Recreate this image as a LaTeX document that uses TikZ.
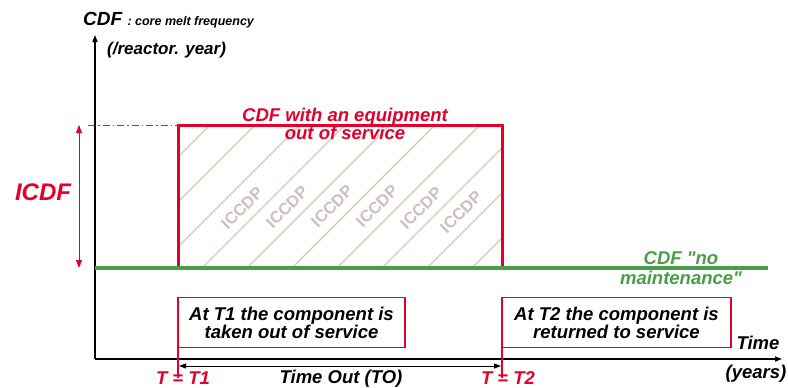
\documentclass[tikz,border=0pt]{standalone}
\usepackage{fontspec}
\setmainfont{Liberation Sans}[Ligatures=TeXOff]
\usetikzlibrary{arrows.meta}
\definecolor{cdfred}{RGB}{228,0,43}
\definecolor{cdfgreen}{RGB}{72,158,72}
\definecolor{hatchtan}{RGB}{210,200,180}
\definecolor{iccdpgrey}{RGB}{208,190,190}
\begin{document}
\begin{tikzpicture}[x=1pt,y=-1pt,
  every node/.style={font=\fontsize{18.5}{18}\selectfont\bfseries\itshape,inner sep=0pt},
  redbox/.style={draw=cdfred,line width=1.4pt,minimum width=#1,minimum height=50pt,align=center},
  tip/.style={-{Triangle[length=7pt,width=5pt]}}]
\useasboundingbox (0,0) rectangle (788,388);
% Axes
\coordinate (orig) at (95,359);
\coordinate (ytip) at (95,35);
\coordinate (xtip) at (782,359);
\draw[tip,line width=1.3pt] (orig) -- (ytip);
\draw[tip,line width=1.3pt] (orig) -- (xtip);
\node[anchor=base west,font=\fontsize{19}{20}\selectfont\bfseries\itshape] (cdf) at (83,25) {CDF {\fontsize{12.5}{13}\selectfont : core melt frequency}};
\node[anchor=base west,font=\fontsize{17}{18}\selectfont\bfseries\itshape] (unit) at (107,54) {(/reactor. year)};
\node (time) at (758,343) {Time};
\node (years) at (756,374) {(years)};
% Hatched area (ICCDP)
\begin{scope}
\clip (178,125) rectangle (502,268);
\foreach \x in {22,67,...,517} \draw[hatchtan,line width=1.4pt] (\x,268) -- ++(170,-170);
\end{scope}
\foreach \x/\y [count=\n] in {242/208,287/207,332/206,377/206,421/208,461/212}
  \node[rotate=45,text=iccdpgrey,font=\fontsize{16.5}{16}\selectfont\bfseries] (iccdp\n) at (\x,\y) {ICCDP};
% CDF with an equipment out of service
\coordinate (a1) at (178,268);
\coordinate (a2) at (178,125);
\coordinate (b2) at (502,125);
\coordinate (b1) at (502,268);
\draw[cdfred,line width=3pt] (a1) -- (a2) -- (b2) -- (b1);
\draw[gray!70!black,line width=1pt,dash pattern=on 7pt off 3pt on 1.5pt off 3pt] (88,125) -- (a2);
\node[text=cdfred,align=center] (equip) at (345,124) {CDF with an equipment\\out of service};
% CDF no maintenance
\coordinate (g0) at (95,268);
\coordinate (g1) at (768,268);
\draw[cdfgreen,line width=3.5pt] (g0) -- (g1);
\node[text=cdfgreen,align=center,font=\fontsize{18.5}{20}\selectfont\bfseries\itshape] (nomaint) at (681,268) {CDF "no\\maintenance"};
% ICDF
\coordinate (i1) at (79,125);
\coordinate (i2) at (79,268);
\draw[cdfred,line width=0.8pt,{Triangle[length=8pt,width=6pt]}-{Triangle[length=8pt,width=6pt]}] (i1) -- (i2);
\node[text=cdfred,font=\fontsize{24}{24}\selectfont\bfseries\itshape] (icdf) at (43,192) {ICDF};
% Boxes T1 / T2
\node[redbox=227pt] (box1) at (291.5,322.5) {At T1 the component is\\taken out of service};
\node[redbox=229pt] (box2) at (616.5,322.5) {At T2 the component is\\returned to service};
\coordinate (m1) at (178,343);
\coordinate (m1b) at (178,378);
\coordinate (m2) at (502,343);
\coordinate (m2b) at (502,378);
\draw[cdfred,line width=2.5pt] (m1) -- (m1b);
\draw[cdfred,line width=2.5pt] (m2) -- (m2b);
\coordinate (to1) at (179,366);
\coordinate (to2) at (501,366);
\draw[line width=0.9pt,{Triangle[length=7pt,width=5pt]}-{Triangle[length=7pt,width=5pt]}] (to1) -- (to2);
\node[text=cdfred] (t1) at (183,378.5) {T = T1};
\node[text=cdfred] (t2) at (508,378.5) {T = T2};
\node (timeout) at (341,378.5) {Time Out (TO)};
\end{tikzpicture}
\end{document}
